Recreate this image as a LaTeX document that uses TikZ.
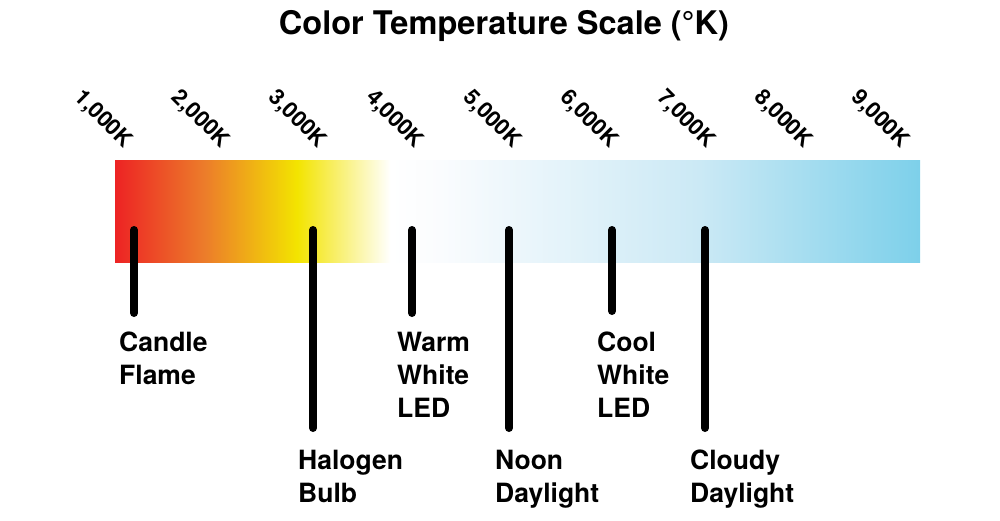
\documentclass[tikz,border=0pt]{standalone}
\usepackage{fontspec}
\setmainfont{TeX Gyre Heros}
\definecolor{cred}{RGB}{237,35,36}
\definecolor{corange}{RGB}{236,125,42}
\definecolor{cyellow}{RGB}{243,228,0}
\definecolor{cwhite}{RGB}{255,255,255}
\definecolor{cwhiteb}{RGB}{250,252,254}
\definecolor{cmidblue}{RGB}{203,233,245}
\definecolor{cblue}{RGB}{125,208,234}
\pgfdeclarehorizontalshading{ctemp}{100bp}{color(0bp)=(cred); color(25bp)=(cred); color(30.6bp)=(corange); color(36.3bp)=(cyellow); color(42.1bp)=(cwhite); color(45.2bp)=(cwhiteb); color(61.3bp)=(cmidblue); color(75bp)=(cblue); color(100bp)=(cblue)}
\begin{document}
\begin{tikzpicture}[x=1pt,y=-1pt,
  tick/.style={font=\fontsize{22}{24}\selectfont\bfseries, rotate=-45, anchor=base east, inner sep=0pt},
  lbl/.style={font=\fontsize{26.5}{33}\selectfont\bfseries, align=left, anchor=north west, inner sep=0pt},
  marker/.style={line width=8pt, line cap=round, black}]
\useasboundingbox (0,0) rectangle (1000,520);
\node[font=\fontsize{32.5}{34}\selectfont\bfseries, anchor=base, inner sep=0pt] (title) at (504,34) {Color Temperature Scale (°K)};
\node[shading=ctemp, minimum width=805pt, minimum height=102pt, inner sep=0pt, anchor=north west] (bar) at (115,160) {};
\foreach \i/\t in {0/1,1/2,2/3,3/4,4/5,5/6,6/7,7/8,8/9}
  \node[tick] (k\t) at ({124+97.1*\i},149) {\t,000K};
\coordinate (tc) at (134,230); \coordinate (bc) at (134,313);
\coordinate (th) at (313,230); \coordinate (bh) at (313,428);
\coordinate (tw) at (412,230); \coordinate (bw) at (412,313);
\coordinate (tn) at (509,230); \coordinate (bn) at (509,428);
\coordinate (to) at (612,230); \coordinate (bo) at (612,311);
\coordinate (ty) at (705,230); \coordinate (by) at (705,428);
\draw[marker] (tc) -- (bc);
\draw[marker] (th) -- (bh);
\draw[marker] (tw) -- (bw);
\draw[marker] (tn) -- (bn);
\draw[marker] (to) -- (bo);
\draw[marker] (ty) -- (by);
\node[lbl] (candle) at (119,332) {Candle\\Flame};
\node[lbl] (halogen) at (298,450) {Halogen\\Bulb};
\node[lbl] (warm) at (397,332) {Warm\\White\\LED};
\node[lbl] (noon) at (495,450) {Noon\\Daylight};
\node[lbl] (cool) at (597,332) {Cool\\White\\LED};
\node[lbl] (cloudy) at (690,450) {Cloudy\\Daylight};
\end{tikzpicture}
\end{document}
